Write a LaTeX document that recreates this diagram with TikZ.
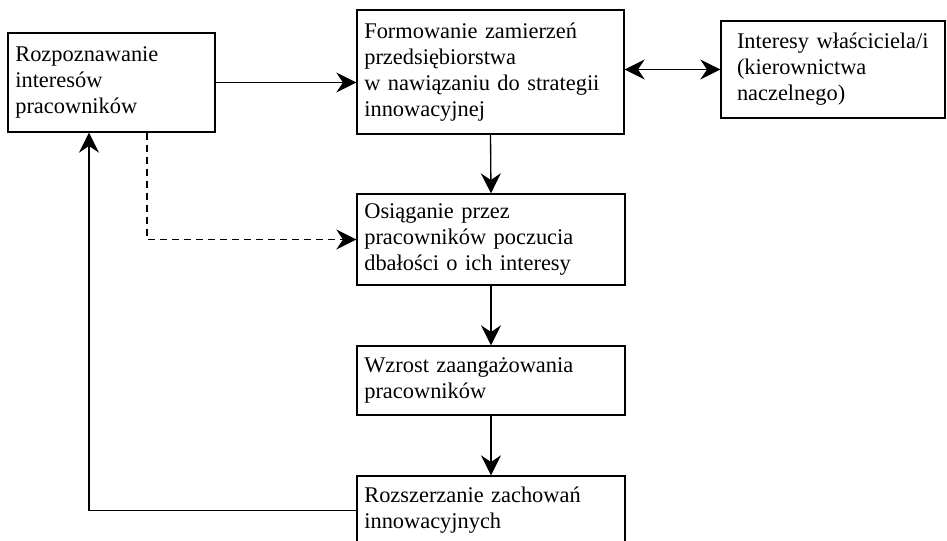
\documentclass[tikz,border=0pt]{standalone}
\usepackage{fontspec}
\setmainfont{Liberation Serif}
\usetikzlibrary{arrows.meta}
\begin{document}
\begin{tikzpicture}[x=0.75pt,y=-0.75pt, line width=1pt,
  >={Stealth[length=15pt,width=15pt,inset=5pt]},
  box/.style={draw, rectangle, align=left, inner xsep=5.5pt, inner ysep=0pt,
    font=\fontsize{16.8}{19.5}\selectfont}]
\useasboundingbox (0,0) rectangle (947,540);
\draw (111.5,82.5) node[box,text width=144.25pt,minimum height=74.25pt] (rozp) {Rozpoznawanie\\interesów\\pracowników};
\draw (490.5,72) node[box,text width=189.25pt,minimum height=93pt] (form) {Formowanie zamierzeń\\przedsiębiorstwa\\w nawiązaniu do strategii\\innowacyjnej};
\draw (833,69.5) node[box,inner xsep=12pt,text width=144pt,minimum height=72.75pt] (inter) {Interesy właściciela/i\\(kierownictwa\\naczelnego)};
\draw (491,239.5) node[box,text width=190pt,minimum height=68.25pt] (osi) {Osiąganie przez\\pracowników poczucia\\dbałości o ich interesy};
\draw (491,380.5) node[box,text width=190pt,minimum height=51.75pt] (wzr) {Wzrost zaangażowania\\pracowników};
\draw (491,510.5) node[box,text width=190pt,minimum height=51.75pt] (roz) {Rozszerzanie zachowań\\innowacyjnych};
\draw[->] (rozp.east) -- (rozp.east -| form.west);
\draw[<->] (form.east |- inter.west) -- (inter.west);
\draw[->] (form.south) -- (osi.north);
\draw[->] (osi.south) -- (wzr.north);
\draw[->] (wzr.south) -- (roz.north);
\draw[->,dash pattern=on 5.5pt off 3.5pt] ([xshift=26.6pt]rozp.south) |- (osi.west);
\draw[->] (roz.west) -| ([xshift=-16.9pt]rozp.south);
\end{tikzpicture}
\end{document}
